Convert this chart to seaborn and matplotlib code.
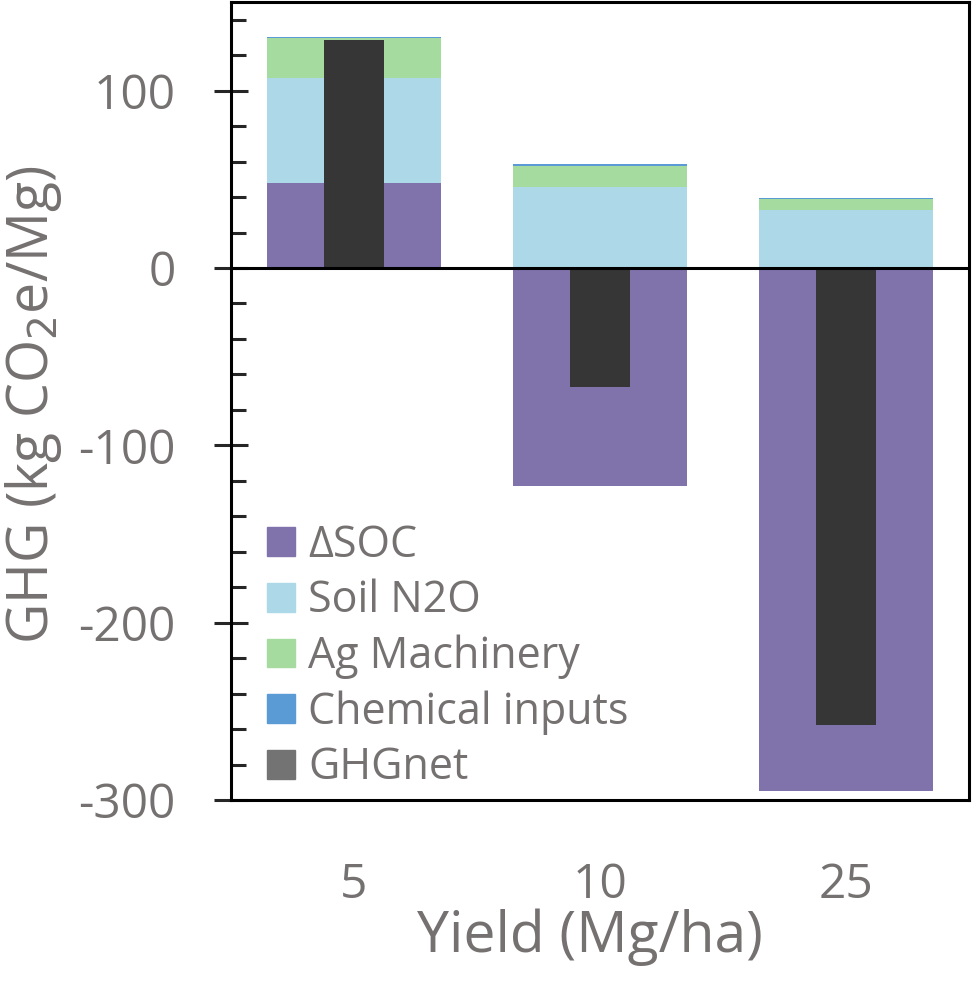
import numpy as np
import pandas as pd
import seaborn as sns
from matplotlib import pyplot as plt
from matplotlib.patches import Patch
from matplotlib.ticker import MultipleLocator

# values (kg CO2e / Mg)
yields = ["5", "10", "25"]
soc = [47.7, -123.2, -295.0]
soil_n2o = [59.2, 45.4, 32.7]
ag_machinery = [22.5, 12.2, 6.0]
chemical = [1.0, 1.0, 1.0]
ghg_net = [128.8, -67.2, -257.5]

colors = {"soc": "#8073ac", "n2o": "#add8e7", "ag": "#a6db9f",
          "chem": "#5b9bd5", "net": "#363636"}
grey = "#757171"

sns.set_style("white")
plt.rcParams['font.family'] = ['Open Sans', 'DejaVu Sans']
plt.rcParams['axes.unicode_minus'] = False

df = pd.DataFrame({"yield": yields, "soc": soc, "n2o": soil_n2o,
                   "ag": ag_machinery, "chem": chemical, "net": ghg_net})
base = np.maximum(df["soc"].values, 0)
b_ag = base + df["n2o"].values
b_chem = b_ag + df["ag"].values

fig, ax = plt.subplots(figsize=(9.73, 9.82), dpi=100)
fig.subplots_adjust(left=0.2374, right=0.9959, bottom=0.1853, top=0.998)

bar_kw = dict(x="yield", order=yields, saturation=1, linewidth=0, ax=ax)
sns.barplot(data=df, y="soc", color=colors["soc"], width=0.71, **bar_kw)
sns.barplot(data=df, y="n2o", color=colors["n2o"], width=0.71, bottom=base, **bar_kw)
sns.barplot(data=df, y="ag", color=colors["ag"], width=0.71, bottom=b_ag, **bar_kw)
sns.barplot(data=df, y="chem", color=colors["chem"], width=0.71, bottom=b_chem, **bar_kw)
sns.barplot(data=df, y="net", color=colors["net"], width=0.24, **bar_kw)

ax.axhline(0, color="black", lw=2.2, zorder=5)
ax.set_xlim(-0.5, 2.5)
ax.set_ylim(-300, 150)
ax.set_yticks([-300, -200, -100, 0, 100])
ax.yaxis.set_minor_locator(MultipleLocator(20))

for s in ax.spines.values():
    s.set_color("black")
    s.set_linewidth(2.2)

ax.tick_params(axis="y", which="major", direction="inout", length=24, width=2.2,
               labelsize=34.5, labelcolor=grey, pad=28, left=True)
ax.tick_params(axis="y", which="minor", direction="in", length=11, width=2.2, left=True)
ax.tick_params(axis="x", length=0, labelsize=34.5, labelcolor=grey, pad=44)

ax.set_xlabel("Yield (Mg/ha)", fontsize=41, color=grey)
ax.set_ylabel("GHG (kg CO$_2$e/Mg)", fontsize=40, color=grey)
ax.xaxis.set_label_coords(0.486, -0.136)
ax.yaxis.set_label_coords(-0.226, 0.495)

handles = [Patch(color=colors["soc"]), Patch(color=colors["n2o"]),
           Patch(color=colors["ag"]), Patch(color=colors["chem"]),
           Patch(color="#737373")]
labels = ["ΔSOC", "Soil N2O", "Ag Machinery", "Chemical inputs", "GHGnet"]
leg = ax.legend(handles, labels, loc="lower left", bbox_to_anchor=(0.049, 0.012),
                frameon=False, fontsize=31, handlelength=0.65, handleheight=0.65,
                handletextpad=0.3, labelspacing=0.26, borderaxespad=0, borderpad=0)
for t in leg.get_texts():
    t.set_color(grey)

plt.savefig("out.png", dpi=100)
